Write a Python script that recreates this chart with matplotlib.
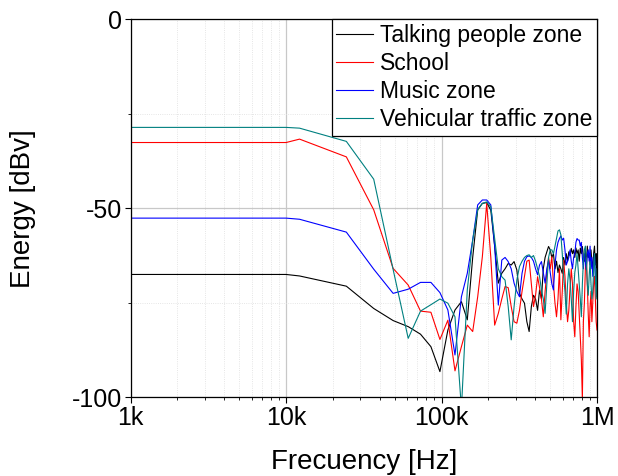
import matplotlib.pyplot as plt
from matplotlib.ticker import FixedLocator, LogLocator, NullFormatter

plt.rcParams['font.family'] = ['Liberation Sans', 'DejaVu Sans']

# frequency axis (kHz): start, knee, then the FFT bins
freq_khz = [1, 10, 12.2, 24.4, 36.6, 48.8, 61, 73.2, 85.4, 97.6, 109.8, 122,
            134.2, 146.4, 158.6, 170.8, 183, 195.2, 207.4, 219.6, 231.8, 244,
            256.2, 268.4, 280.6, 292.8, 305, 317.2, 329.4, 341.6, 353.8, 366,
            378.2, 390.4, 402.6, 414.8, 427, 439.2, 451.4, 463.6, 475.8, 488,
            500.2, 512.4, 524.6, 536.8, 549, 561.2, 573.4, 585.6, 597.8, 610,
            622.2, 634.4, 646.6, 658.8, 671, 683.2, 695.4, 707.6, 719.8, 732,
            744.2, 756.4, 768.6, 780.8, 793, 805.2, 817.4, 829.6, 841.8, 854,
            866.2, 878.4, 890.6, 902.8, 915, 927.2, 939.4, 951.6, 963.8, 976,
            988.2, 1000]

talking = [-67.5, -67.5, -67.9, -70.6, -76.5, -79.7, -81.3, -83.3, -86.6, -93.2,
           -82.2, -76.9, -74.7, -79.5, -63, -50.4, -48.7, -48.5, -50.5, -60,
           -69.8, -67.2, -66, -64.6, -65, -64.1, -66.3, -72.5, -74, -75.1,
           -80, -82.6, -76, -73, -74, -77, -71.6, -74, -66, -63,
           -61.5, -60.1, -61, -63, -62, -66, -64, -67, -65, -66,
           -67.2, -63, -65, -62, -64, -61.5, -62.5, -60.6, -62, -61,
           -63, -60.5, -62, -61, -64, -60.5, -62, -60.1, -63, -64,
           -61, -66, -60, -63, -62, -65, -61, -64, -66, -62,
           -60, -65, -62, -73.4]

school = [-32.6, -32.6, -31.7, -36.4, -50.4, -65.9, -70.3, -77.2, -77.5, -84.7,
          -79.6, -93.0, -86.6, -80.9, -82.6, -73.4, -62.8, -48.7, -63, -80.9,
          -77.8, -74, -70.7, -71, -76, -80, -80.4, -77, -72, -68,
          -64, -63.7, -70, -76, -73, -68.1, -71, -74, -78.7, -72,
          -67, -63, -66, -62.8, -70, -75.1, -78.7, -74, -66, -79.5,
          -72, -63.7, -68, -75, -80, -77, -71, -66, -70, -80,
          -84, -76, -70, -72, -78, -84, -90, -100.5, -80, -75,
          -66, -63, -70, -78, -84, -76, -72, -80, -75, -70,
          -68, -74, -80, -82.2]

music = [-52.6, -52.6, -52.9, -56.3, -66.1, -72.5, -71.4, -69.6, -69.6, -72.3,
         -76.9, -88.8, -73.4, -67.2, -58.4, -49.1, -47.8, -47.8, -49.1, -60,
         -75.6, -63.7, -63, -64.1, -66, -69.8, -72, -73.4, -67.2, -64,
         -62.8, -62.6, -63, -64, -66, -67.6, -65, -64.1, -67, -69.8,
         -66, -63.7, -67, -70, -71.6, -65, -61, -59, -58, -57.3,
         -58.4, -57.9, -61, -65, -64, -63, -61, -64, -66, -63,
         -62, -59, -58, -58.4, -58.4, -60, -59, -63, -66, -62,
         -64, -66.3, -62, -61, -64, -60, -66, -63, -68, -65,
         -62, -68, -70, -69.8]

traffic = [-28.6, -28.6, -28.8, -32.3, -42.3, -66.2, -84.4, -77.2, -75.5, -74.0,
           -75.1, -78.7, -103, -71.6, -58.4, -50.4, -48.7, -48.3, -49.6, -58,
           -66, -68.1, -69, -76, -84.8, -76, -69, -65.4, -64, -63,
           -62.5, -62.3, -63, -62.5, -64, -66, -68, -71.6, -74, -77.8,
           -70, -63, -61, -61, -62, -60, -58, -56, -55.7, -57,
           -62, -68, -72, -78, -70, -66, -69, -74, -80, -72,
           -67, -65, -62, -66, -70, -74, -78.7, -70, -64, -61,
           -60, -64, -70, -73, -68, -64, -70, -74, -72, -66,
           -62, -68, -74, -66]

labels = ['Talking people zone', 'School', 'Music zone', 'Vehicular traffic zone']
colors = ['black', '#ff0000', '#0000ff', '#008080']

freq_hz = [f * 1000 for f in freq_khz]

fig = plt.figure(figsize=(6.18, 4.76), dpi=100)
ax = fig.add_axes([0.2115, 0.1653, 0.7545, 0.7942])

for series, lab, col in zip([talking, school, music, traffic], labels, colors):
    ax.plot(freq_hz, series, color=col, linewidth=0.8, label=lab)

ax.set_xscale('log')
ax.set_xlim(1e3, 1e6)
ax.set_ylim(-100, 0)

ax.xaxis.set_major_locator(FixedLocator([1e3, 1e4, 1e5, 1e6]))
ax.set_xticklabels(['1k', '10k', '100k', '1M'])
ax.xaxis.set_minor_locator(LogLocator(base=10, subs=range(2, 10)))
ax.xaxis.set_minor_formatter(NullFormatter())
ax.set_yticks([0, -50, -100])
ax.set_yticklabels(['0', '-50', '-100'])
ax.yaxis.set_minor_locator(FixedLocator([-25, -75]))

ax.grid(which='major', color='#c8c8c8', linewidth=0.9, linestyle='-')
ax.grid(which='minor', color='#dddddd', linewidth=0.6, linestyle=':')
ax.set_axisbelow(True)

ax.tick_params(which='major', labelsize=18, length=4, width=0.8, pad=2)
ax.tick_params(which='minor', length=2.5, width=0.6)
for sp in ax.spines.values():
    sp.set_linewidth(0.9)

ax.set_xlabel('Frecuency [Hz]', fontsize=20, labelpad=14)
ax.set_ylabel('Energy [dBv]', fontsize=20, labelpad=26)

leg = ax.legend(loc='upper right', fontsize=16.5, borderaxespad=0, handlelength=1.6,
                handletextpad=0.3, labelspacing=0.22, borderpad=0.2, fancybox=False,
                framealpha=1)
leg.get_frame().set_edgecolor('black')
leg.get_frame().set_linewidth(0.9)

fig.savefig('out.png', dpi=100)
